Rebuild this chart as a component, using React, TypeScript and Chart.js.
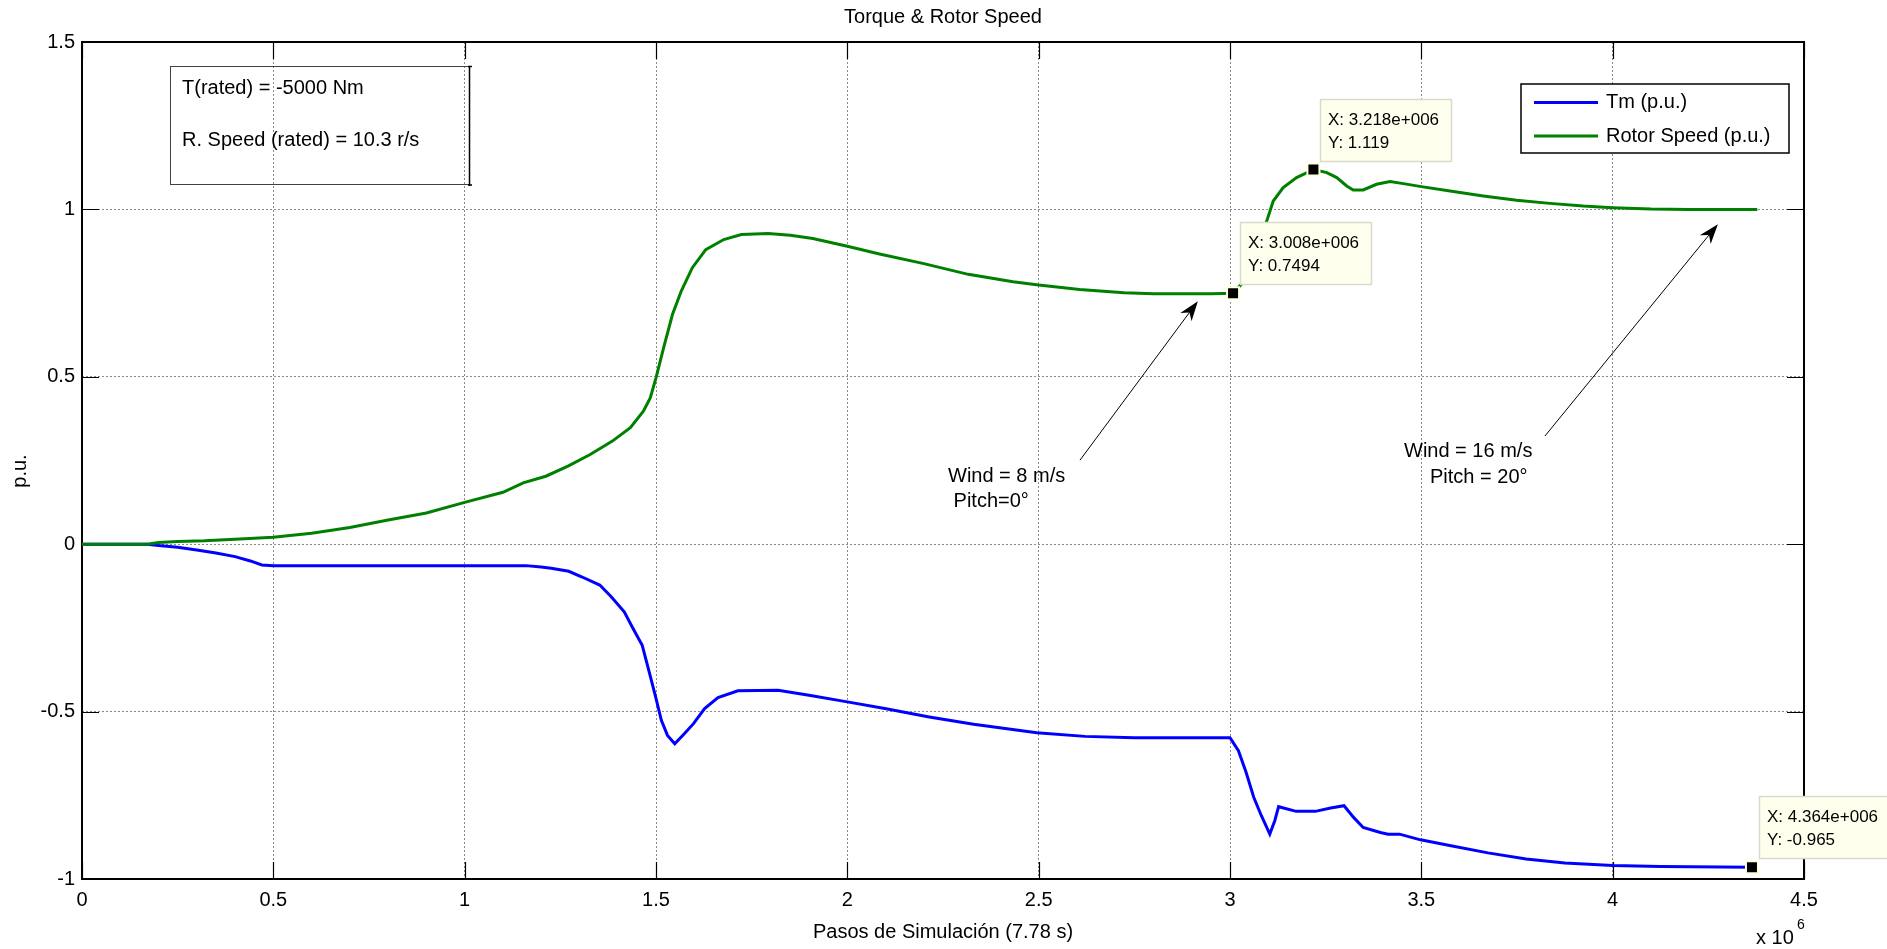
import React, { useEffect, useRef } from 'react';
import { Chart, registerables } from 'chart.js';

Chart.register(...registerables);

// Simulation steps in units of 1e6
const stepsSpeed = [
  0, 0.1, 0.17, 0.2, 0.25, 0.32, 0.4, 0.5, 0.6, 0.7, 0.8, 0.9, 1.0, 1.1, 1.153, 1.212, 1.27, 1.328, 1.386,
  1.433, 1.467, 1.485, 1.5, 1.52, 1.543, 1.566, 1.595, 1.63, 1.677, 1.723, 1.793, 1.851, 1.91, 2.0, 2.084,
  2.2, 2.316, 2.433, 2.5, 2.607, 2.723, 2.8, 2.95, 3.008, 3.03, 3.06, 3.096, 3.113, 3.139, 3.174, 3.218,
  3.253, 3.279, 3.305, 3.322, 3.348, 3.383, 3.418, 3.453, 3.5, 3.575, 3.662, 3.749, 3.836, 3.923, 4.0, 4.1,
  4.2, 4.378,
];
const rotorSpeed = [
  0, 0, 0, 0.005, 0.008, 0.01, 0.015, 0.021, 0.033, 0.05, 0.072, 0.093, 0.125, 0.155, 0.183, 0.203, 0.233,
  0.268, 0.308, 0.348, 0.397, 0.437, 0.497, 0.587, 0.686, 0.756, 0.826, 0.88, 0.91, 0.925, 0.928, 0.923,
  0.913, 0.89, 0.867, 0.838, 0.806, 0.784, 0.774, 0.761, 0.751, 0.748, 0.748, 0.7494, 0.777, 0.86, 0.965,
  1.025, 1.065, 1.095, 1.119, 1.11, 1.095, 1.07, 1.058, 1.058, 1.075, 1.083, 1.077, 1.068, 1.055, 1.04,
  1.027, 1.018, 1.01, 1.005, 1.001, 1.0, 1.0,
];

const stepsTm = [
  0, 0.17, 0.2, 0.25, 0.3, 0.35, 0.4, 0.44, 0.47, 0.5, 1.16, 1.2, 1.226, 1.272, 1.307, 1.353, 1.383, 1.417,
  1.44, 1.464, 1.481, 1.499, 1.514, 1.53, 1.549, 1.574, 1.598, 1.627, 1.662, 1.714, 1.819, 1.9, 2.0, 2.098,
  2.214, 2.33, 2.495, 2.621, 2.75, 3.0, 3.022, 3.042, 3.062, 3.082, 3.104, 3.117, 3.127, 3.173, 3.223, 3.263,
  3.298, 3.323, 3.348, 3.393, 3.413, 3.443, 3.498, 3.574, 3.674, 3.774, 3.875, 4.0, 4.125, 4.364,
];
const torque = [
  0, 0, -0.004, -0.009, -0.017, -0.026, -0.037, -0.05, -0.062, -0.064, -0.064, -0.068, -0.072, -0.081,
  -0.098, -0.122, -0.157, -0.202, -0.252, -0.302, -0.376, -0.456, -0.526, -0.571, -0.596, -0.566, -0.536,
  -0.491, -0.458, -0.438, -0.436, -0.451, -0.471, -0.491, -0.516, -0.538, -0.563, -0.574, -0.578, -0.578,
  -0.617, -0.681, -0.756, -0.811, -0.866, -0.826, -0.784, -0.798, -0.798, -0.788, -0.781, -0.816, -0.846,
  -0.861, -0.866, -0.866, -0.883, -0.9, -0.922, -0.94, -0.952, -0.96, -0.963, -0.965,
];

const tipSteps = [3.008, 3.218, 4.364];
const tipValues = [0.7494, 1.119, -0.965];
const tipXLabels = ['X: 3.008e+006', 'X: 3.218e+006', 'X: 4.364e+006'];
const tipYLabels = ['Y: 0.7494', 'Y: 1.119', 'Y: -0.965'];

const xTicks = [0, 0.5, 1, 1.5, 2, 2.5, 3, 3.5, 4, 4.5];
const yTicks = [-1, -0.5, 0, 0.5, 1, 1.5];

const seriesNames = ['Tm (p.u.)', 'Rotor Speed (p.u.)'];
const seriesColors = ['#0000ff', '#008000'];

const titleText = 'Torque & Rotor Speed';
const xLabel = 'Pasos de Simulación (7.78 s)';
const yLabel = 'p.u.';
const boxLines = ['T(rated) = -5000 Nm', 'R. Speed (rated) = 10.3 r/s'];

// annotation arrows: [fromStep, fromValue, toStep, toValue]
const arrow1 = [2.608, 0.251, 2.916, 0.726];
const arrow2 = [3.823, 0.323, 4.275, 0.956];
const note1 = ['Wind = 8 m/s', ' Pitch=0°'];
const note2 = ['Wind = 16 m/s', 'Pitch = 20°'];

const FONT = '"Liberation Sans", Arial, Helvetica, sans-serif';

function drawArrow(ctx: CanvasRenderingContext2D, x1: number, y1: number, x2: number, y2: number) {
  const ang = Math.atan2(y2 - y1, x2 - x1);
  const len = 20;
  const half = 7;
  ctx.strokeStyle = '#000';
  ctx.lineWidth = 1;
  ctx.beginPath();
  ctx.moveTo(x1, y1);
  ctx.lineTo(x2 - Math.cos(ang) * len * 0.6, y2 - Math.sin(ang) * len * 0.6);
  ctx.stroke();
  const bx = x2 - Math.cos(ang) * len;
  const by = y2 - Math.sin(ang) * len;
  const nx = -Math.sin(ang);
  const ny = Math.cos(ang);
  const mx = x2 - Math.cos(ang) * len * 0.7;
  const my = y2 - Math.sin(ang) * len * 0.7;
  ctx.fillStyle = '#000';
  ctx.beginPath();
  ctx.moveTo(x2, y2);
  ctx.lineTo(bx + nx * half, by + ny * half);
  ctx.lineTo(mx, my);
  ctx.lineTo(bx - nx * half, by - ny * half);
  ctx.closePath();
  ctx.fill();
}

const decor = {
  id: 'decor',
  beforeDatasetsDraw(chart: any) {
    const { ctx, chartArea } = chart;
    const xs = chart.scales.x;
    const ys = chart.scales.y;
    const { left, right, top, bottom } = chartArea;
    ctx.save();
    // axes box
    ctx.strokeStyle = '#000';
    ctx.lineWidth = 2;
    ctx.strokeRect(left, top, right - left, bottom - top);
    // inward ticks
    ctx.lineWidth = 1.2;
    ctx.beginPath();
    xTicks.forEach((v) => {
      const p = Math.round(xs.getPixelForValue(v)) + 0.5;
      ctx.moveTo(p, bottom);
      ctx.lineTo(p, bottom - 17);
      ctx.moveTo(p, top);
      ctx.lineTo(p, top + 17);
    });
    yTicks.forEach((v) => {
      const p = Math.round(ys.getPixelForValue(v)) + 0.5;
      ctx.moveTo(left, p);
      ctx.lineTo(left + 17, p);
      ctx.moveTo(right, p);
      ctx.lineTo(right - 17, p);
    });
    ctx.stroke();
    ctx.restore();
  },
  afterDraw(chart: any) {
    const { ctx, chartArea } = chart;
    const xs = chart.scales.x;
    const ys = chart.scales.y;
    const { left, right, top, bottom } = chartArea;
    ctx.save();
    ctx.fillStyle = '#000';
    ctx.textBaseline = 'middle';
    // title
    ctx.font = `20px ${FONT}`;
    ctx.textAlign = 'center';
    ctx.fillText(titleText, (left + right) / 2, 17);
    // x label
    ctx.fillText(xLabel, (left + right) / 2, 932);
    // y label
    ctx.save();
    ctx.translate(20, 471);
    ctx.rotate(-Math.PI / 2);
    ctx.fillText(yLabel, 0, 0);
    ctx.restore();
    // x 10^6
    ctx.textAlign = 'left';
    ctx.fillText('x 10', 1756, 938);
    ctx.font = `14px ${FONT}`;
    ctx.fillText('6', 1797, 925);

    // textbox
    ctx.strokeStyle = '#404040';
    ctx.lineWidth = 1;
    ctx.strokeRect(170.5, 66.5, 299, 118);
    ctx.strokeStyle = '#000';
    ctx.lineWidth = 1.5;
    ctx.beginPath();
    ctx.moveTo(469.5, 66);
    ctx.lineTo(469.5, 186);
    ctx.moveTo(468, 66.5);
    ctx.lineTo(472, 66.5);
    ctx.moveTo(468, 185);
    ctx.lineTo(472, 185);
    ctx.stroke();
    ctx.font = `20px ${FONT}`;
    ctx.fillStyle = '#000';
    ctx.fillText(boxLines[0], 182, 88);
    ctx.fillText(boxLines[1], 182, 140);

    // legend
    ctx.fillStyle = '#fff';
    ctx.fillRect(1521, 84, 268, 69);
    ctx.strokeStyle = '#000';
    ctx.lineWidth = 1.5;
    ctx.strokeRect(1521, 84, 268, 69);
    const rowsY = [102.5, 136];
    seriesNames.forEach((n, i) => {
      ctx.strokeStyle = seriesColors[i];
      ctx.lineWidth = 3;
      ctx.beginPath();
      ctx.moveTo(1534, rowsY[i]);
      ctx.lineTo(1598, rowsY[i]);
      ctx.stroke();
      ctx.fillStyle = '#000';
      ctx.fillText(n, 1606, rowsY[i]);
    });

    // arrows
    drawArrow(ctx, xs.getPixelForValue(arrow1[0]), ys.getPixelForValue(arrow1[1]), xs.getPixelForValue(arrow1[2]), ys.getPixelForValue(arrow1[3]));
    drawArrow(ctx, xs.getPixelForValue(arrow2[0]), ys.getPixelForValue(arrow2[1]), xs.getPixelForValue(arrow2[2]), ys.getPixelForValue(arrow2[3]));
    ctx.fillStyle = '#000';
    ctx.font = `20px ${FONT}`;
    ctx.fillText(note1[0], 948, 476);
    ctx.fillText(note1[1], 948, 501);
    ctx.fillText(note2[0], 1404, 451);
    ctx.fillText(note2[1], 1430, 477);

    // data tips (on top of everything, incl. the axes box)
    tipSteps.forEach((s, i) => {
      const px = xs.getPixelForValue(s);
      const py = ys.getPixelForValue(tipValues[i]);
      const l = Math.round(px + 7);
      const t = Math.round(py - 9 - 62);
      ctx.fillStyle = '#ffffee';
      ctx.fillRect(l, t, 131, 62);
      ctx.strokeStyle = '#d9d9cc';
      ctx.lineWidth = 1.5;
      ctx.strokeRect(l + 0.5, t + 0.5, 131, 62);
      ctx.fillStyle = '#000';
      ctx.font = `17px ${FONT}`;
      ctx.textBaseline = 'middle';
      ctx.textAlign = 'left';
      ctx.fillText(tipXLabels[i], l + 8, t + 21);
      ctx.fillText(tipYLabels[i], l + 8, t + 44);
    });
    ctx.restore();
  },
};

export default function App() {
  const ref = useRef<HTMLCanvasElement | null>(null);
  useEffect(() => {
    document.body.style.margin = '0';
    const canvas = ref.current;
    if (!canvas) return;
    Chart.defaults.font.family = FONT;
    const chart = new Chart(canvas, {
      type: 'line',
      data: {
        datasets: [
          {
            label: 'tips',
            type: 'scatter',
            data: tipSteps.map((s, i) => ({ x: s, y: tipValues[i] })),
            pointStyle: 'rect',
            pointRadius: 8.5,
            pointBackgroundColor: '#000',
            pointBorderColor: '#ffffe0',
            pointBorderWidth: 2,
            showLine: false,
          },
          {
            label: seriesNames[1],
            data: stepsSpeed.map((s, i) => ({ x: s, y: rotorSpeed[i] })),
            borderColor: seriesColors[1],
            borderWidth: 3,
            pointRadius: 0,
            tension: 0,
            fill: false,
          },
          {
            label: seriesNames[0],
            data: stepsTm.map((s, i) => ({ x: s, y: torque[i] })),
            borderColor: seriesColors[0],
            borderWidth: 3,
            pointRadius: 0,
            tension: 0,
            fill: false,
          },
        ],
      },
      options: {
        responsive: false,
        animation: false,
        layout: { padding: { left: 0, top: 42, right: 83, bottom: 0 } },
        plugins: {
          legend: { display: false },
          title: { display: false },
          tooltip: { enabled: false },
        },
        events: [],
        scales: {
          x: {
            type: 'linear',
            min: 0,
            max: 4.5,
            afterBuildTicks: (s: any) => {
              s.ticks = xTicks.map((v) => ({ value: v }));
            },
            afterFit: (s: any) => {
              s.height = 70;
            },
            ticks: {
              callback: (v: any) => String(v),
              color: '#000',
              font: { size: 20, family: FONT },
              padding: 9,
              maxRotation: 0,
              autoSkip: false,
            },
            grid: { color: '#8a8a8a', lineWidth: 1, drawTicks: false },
            border: { display: false, dash: [2, 2] },
          },
          y: {
            type: 'linear',
            min: -1,
            max: 1.5,
            afterBuildTicks: (s: any) => {
              s.ticks = yTicks.map((v) => ({ value: v }));
            },
            afterFit: (s: any) => {
              s.width = 82;
            },
            ticks: {
              callback: (v: any) => String(v),
              color: '#000',
              font: { size: 20, family: FONT },
              padding: 7,
              autoSkip: false,
            },
            grid: { color: '#8a8a8a', lineWidth: 1, drawTicks: false },
            border: { display: false, dash: [2, 2] },
          },
        },
      },
      plugins: [decor],
    });
    return () => chart.destroy();
  }, []);
  return (
    <div style={{ position: 'absolute', left: 0, top: 0, width: 1887, height: 949, background: '#fff' }}>
      <canvas ref={ref} width={1887} height={949} style={{ display: 'block', width: 1887, height: 949 }} />
    </div>
  );
}
